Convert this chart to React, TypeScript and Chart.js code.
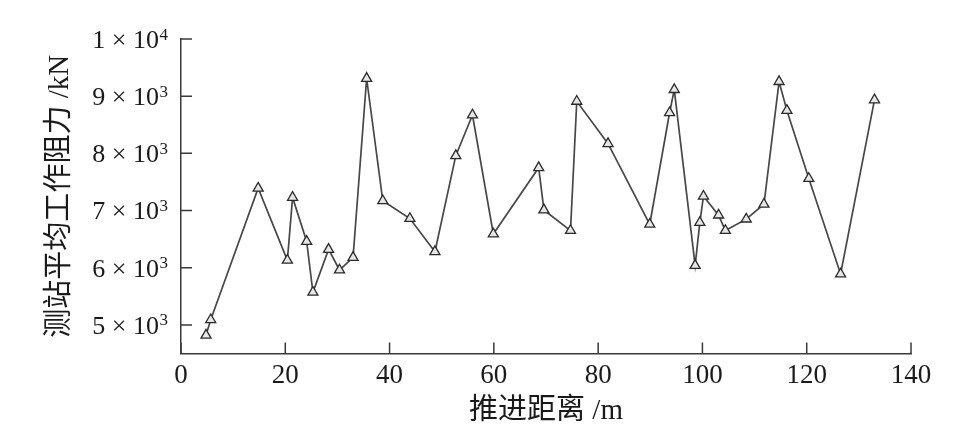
import React, { useEffect, useRef } from "react";
import { Chart, registerables } from "chart.js";

Chart.register(...registerables);

// 推进距离 /m
const distances = [
  4.8, 5.7, 14.8, 20.4, 21.4, 24.1, 25.3, 28.3, 30.4, 33.0, 35.6, 38.7, 43.9,
  48.7, 52.7, 55.9, 59.9, 68.6, 69.6, 74.7, 75.9, 81.9, 89.9, 93.7, 94.6, 98.6,
  99.5, 100.2, 103.1, 104.4, 108.4, 111.8, 114.7, 116.2, 120.4, 126.5, 133.0,
];
// 测站平均工作阻力 /kN
const resistances = [
  4820, 5090, 7390, 6130, 7230, 6460, 5570, 6320, 5960, 6180, 9310, 7170, 6860,
  6280, 7960, 8670, 6590, 7750, 7010, 6650, 8910, 8170, 6760, 8710, 9115, 6040,
  6790, 7250, 6920, 6650, 6850, 7110, 9255, 8750, 7560, 5890, 8935,
];

const yTickValues = [5000, 6000, 7000, 8000, 9000, 10000];
const yTickMantissas = ["5 × 10", "6 × 10", "7 × 10", "8 × 10", "9 × 10", "1 × 10"];
const yTickExponents = ["3", "3", "3", "3", "3", "4"];
const xTickValues = [0, 20, 40, 60, 80, 100, 120, 140];

const xTitle = "推进距离 /m";
const yTitle = "测站平均工作阻力 /kN";

const SERIF = "'Liberation Serif', 'Times New Roman', serif";

const axisDecor = {
  id: "axisDecor",
  afterDraw(chart: any) {
    const ctx = chart.ctx;
    const xs = chart.scales.x;
    const ys = chart.scales.y;
    const area = chart.chartArea;
    ctx.save();
    // inward tick marks
    ctx.strokeStyle = "#3a3a3a";
    ctx.lineWidth = 1.5;
    ctx.beginPath();
    xs.ticks.forEach((t: any) => {
      const px = xs.getPixelForValue(t.value);
      ctx.moveTo(px, area.bottom);
      ctx.lineTo(px, area.bottom - 11);
    });
    ys.ticks.forEach((t: any) => {
      const py = ys.getPixelForValue(t.value);
      ctx.moveTo(area.left, py);
      ctx.lineTo(area.left + 11, py);
    });
    ctx.stroke();
    // y tick labels with superscript exponents
    ctx.fillStyle = "#1a1a1a";
    ctx.textBaseline = "alphabetic";
    ys.ticks.forEach((t: any, i: number) => {
      const py = ys.getPixelForValue(t.value);
      const right = area.left - 13;
      ctx.font = `17px ${SERIF}`;
      ctx.textAlign = "right";
      const exp = yTickExponents[i];
      const w2 = ctx.measureText(exp).width;
      ctx.fillText(exp, right, py + 0.5);
      ctx.font = `26px ${SERIF}`;
      ctx.fillText(yTickMantissas[i], right - w2 - 0.5, py + 8.8);
    });
    ctx.restore();
  },
};

export default function App() {
  const ref = useRef<HTMLCanvasElement>(null);

  useEffect(() => {
    if (!ref.current) return;
    const cjk = "'Liberation Serif', 'Noto Sans CJK SC', serif";
    const chart = new Chart(ref.current, {
      type: "line",
      data: {
        datasets: [
          {
            data: distances.map((d, i) => ({ x: d, y: resistances[i] })),
            borderColor: "#474747",
            borderWidth: 1.7,
            pointStyle: "triangle",
            pointRadius: 5.8,
            pointBackgroundColor: "#e6e6e6",
            pointBorderColor: "#2a2a2a",
            pointBorderWidth: 1.3,
            tension: 0,
            fill: false,
          },
        ],
      },
      options: {
        animation: false,
        responsive: false,
        devicePixelRatio: 1,
        layout: { padding: { left: 0, top: 39, right: 57, bottom: 0 } },
        plugins: {
          legend: { display: false },
          tooltip: { enabled: false },
        },
        scales: {
          x: {
            type: "linear",
            min: 0,
            max: 140,
            afterBuildTicks: (scale: any) => {
              scale.ticks = xTickValues.map((v) => ({ value: v }));
            },
            afterFit: (scale: any) => {
              scale.height = 90.5;
            },
            grid: { display: false, drawTicks: false },
            border: { display: true, color: "#3a3a3a", width: 1.5 },
            ticks: {
              padding: 6,
              color: "#1a1a1a",
              font: { family: SERIF, size: 27 },
              maxRotation: 0,
            },
            title: {
              display: true,
              text: xTitle,
              color: "#1a1a1a",
              font: { family: cjk, size: 29 },
              padding: { top: 0, bottom: 15 },
            },
          },
          y: {
            type: "linear",
            min: 4500,
            max: 10000,
            afterBuildTicks: (scale: any) => {
              scale.ticks = yTickValues.map((v) => ({ value: v }));
            },
            afterFit: (scale: any) => {
              scale.width = 181;
            },
            grid: { display: false, drawTicks: false },
            border: { display: true, color: "#3a3a3a", width: 1.5 },
            ticks: { display: false },
            title: {
              display: true,
              text: yTitle,
              color: "#1a1a1a",
              font: { family: cjk, size: 29 },
              padding: { top: 43, bottom: 0 },
            },
          },
        },
      },
      plugins: [axisDecor],
    });
    return () => chart.destroy();
  }, []);

  return (
    <div style={{ position: "absolute", left: 0, top: 0, width: 968, height: 444, background: "#fff" }}>
      <canvas ref={ref} width={968} height={444} style={{ width: 968, height: 444 }} />
    </div>
  );
}
